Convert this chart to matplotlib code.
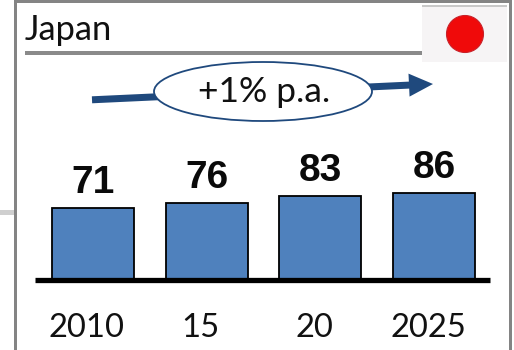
import matplotlib
matplotlib.use("Agg")
import matplotlib.pyplot as plt
from matplotlib.patches import Circle, Ellipse, Rectangle
from matplotlib.transforms import ScaledTranslation

years = ["2010", "15", "20", "2025"]
values = [71, 76, 83, 86]
title = "Japan"
growth = "+1% p.a."

W, H = 514, 350
BLUE = "#4F81BD"
NAVY = "#1F497D"
GREY = "#848484"

fig = plt.figure(figsize=(W / 100, H / 100), dpi=100, facecolor="white")

# Pixel-space layer for the panel frame, header, flag and growth arrow
deco = fig.add_axes([0, 0, 1, 1])
deco.set_xlim(0, W)
deco.set_ylim(H, 0)
deco.axis("off")

deco.add_patch(Rectangle((0, 210), 14, 5, fc="#cfcfcf", ec="none"))
deco.add_patch(Rectangle((13.5, 0), 3.5, H, fc=GREY, ec="none"))
deco.add_patch(Rectangle((508.5, 0), 3.5, H, fc=GREY, ec="none"))
deco.add_patch(Rectangle((13.5, 0), 498.5, 2.5, fc=GREY, ec="none"))
deco.add_patch(Rectangle((25, 50.5), 398, 4, fc="#8a8a8a", ec="none"))

deco.text(24.5, 39.5, title, family="Lato", fontsize=24.8, color="#111111", ha="left", va="baseline")

# Flag
deco.add_patch(Rectangle((422, 5), 85, 57, fc="#f6f4f5", ec="none"))
deco.add_patch(Rectangle((422, 5), 85, 1.5, fc="#c8c8c8", ec="none"))
deco.add_patch(Circle((465, 34), 18.5, fc="#f00a0a", ec="#c8222a", lw=0.8))

# Growth arrow with its bubble on top
deco.arrow(92, 99.8, 341, -15.8, width=7, head_width=23, head_length=24,
           length_includes_head=True, fc=NAVY, ec="none", zorder=2)
deco.add_patch(Ellipse((263, 91.5), 218, 59, fc="white", ec=NAVY, lw=1.3, zorder=3))
deco.text(264.5, 101.5, growth, family="Lato", fontsize=25.5, color="#111111",
          ha="center", va="baseline", zorder=4)

# Bar chart layer: baseline at y = 279.5 px, axis from x = 35 to 490 px
px_per_unit = 1.01
x_unit = 113.67
left, right, base, top = 35, 490, 279.5, 130
ax = fig.add_axes([left / W, 1 - base / H, (right - left) / W, (base - top) / H])
ax.patch.set_alpha(0)
ax.set_xlim(-(93 - left) / x_unit, 3 + (right - 434) / x_unit)
ax.set_ylim(0, (base - top) / px_per_unit)

positions = list(range(len(values)))
bars = ax.bar(positions, values, width=82 / x_unit, color=BLUE, edgecolor="black", linewidth=1.3)
for bar, v in zip(bars, values):
    ax.annotate(str(v), (bar.get_x() + bar.get_width() / 2, v), xytext=(0, 10.5),
                textcoords="offset points", ha="center", va="baseline",
                family="Liberation Sans", fontweight="bold", fontsize=28, color="#0a0a0a")

for side in ("top", "left", "right"):
    ax.spines[side].set_visible(False)
ax.spines["bottom"].set_linewidth(3.8)
ax.spines["bottom"].set_color("black")
ax.spines["bottom"].set_capstyle("butt")
ax.set_yticks([])
ax.set_xticks(positions)
ax.set_xticklabels(years, family="Lato", fontsize=23.6, color="#111111")
ax.tick_params(axis="x", length=0, pad=24)

# Year labels sit slightly left of their bar centres
nudge = ScaledTranslation(-6 / 100, 0, fig.dpi_scale_trans)
for label in ax.get_xticklabels():
    label.set_transform(label.get_transform() + nudge)

fig.savefig("out.png", dpi=100, facecolor="white")
